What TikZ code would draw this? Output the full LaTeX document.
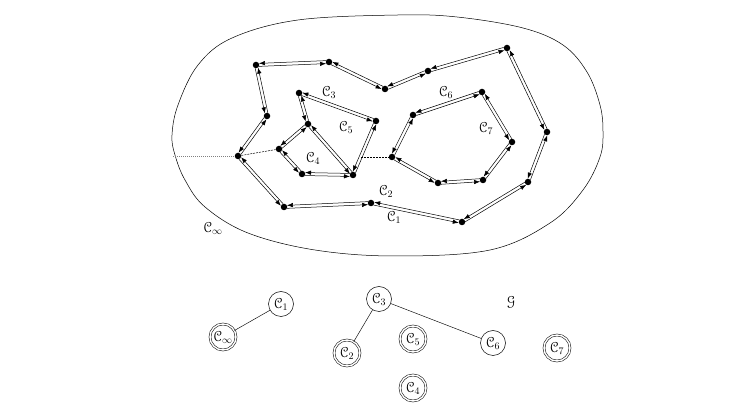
\documentclass[tikz,border=0pt]{standalone}
\usepackage{amsmath}
\usepackage[mathcal]{eucal}
\usetikzlibrary{arrows.meta,calc}
\newcommand\hoff{1.5pt}
\newcommand\hedge[2]{%
  \draw[half] ($(#1.center)!\hoff!-90:(#2.center)$) -- ($(#2.center)!\hoff!90:(#1.center)$);
  \draw[half] ($(#2.center)!\hoff!-90:(#1.center)$) -- ($(#1.center)!\hoff!90:(#2.center)$);
}
\tikzset{
  vtx/.style={circle,fill=black,inner sep=0pt,minimum size=6.5pt},
  half/.style={draw=black,line width=0.5pt,-{Latex[length=6pt,width=4.4pt]},shorten >=3pt,shorten <=3pt},
  lbl/.style={inner sep=0pt,font=\fontsize{14.5}{16}\selectfont},
  gnode/.style={circle,draw=black,line width=0.5pt,minimum size=25pt,inner sep=0pt,font=\fontsize{14.5}{16}\selectfont},
  gdouble/.style={gnode,double,double distance=1.5pt,minimum size=26pt},
  gedge/.style={draw=black,line width=0.45pt}
}
\begin{document}
\begin{tikzpicture}[x=1pt,y=-1pt]
\useasboundingbox (0,0) rectangle (745,411);
% outer curve
\draw[line width=0.5pt] plot[smooth cycle,tension=0.6] coordinates {
  (172,135) (175,155) (185,180) (205,207) (248,233) (315,250) (395,256)
  (490,250) (550,223) (583,190) (600,157) (603,132) (600,105) (587,72)
  (563,45) (523,28) (457,17) (398,15) (298,20) (232,38) (198,65) (178,105)};
% outer cycle vertices
\node[vtx] (a1) at (256,65) {};
\node[vtx] (a2) at (329,62) {};
\node[vtx] (a3) at (385,89) {};
\node[vtx] (a4) at (428,71) {};
\node[vtx] (a5) at (507,48) {};
\node[vtx] (a6) at (547,132) {};
\node[vtx] (a7) at (528,182) {};
\node[vtx] (a8) at (462,222) {};
\node[vtx] (a9) at (371,203) {};
\node[vtx] (a10) at (284,207) {};
\node[vtx] (a11) at (238,156) {};
\node[vtx] (a12) at (267,116) {};
% left inner component
\node[vtx] (b1) at (299,93) {};
\node[vtx] (b2) at (376,121) {};
\node[vtx] (b3) at (353,175) {};
\node[vtx] (b4) at (308,124) {};
\node[vtx] (b5) at (279,149) {};
\node[vtx] (b6) at (302,174) {};
% right inner component
\node[vtx] (d1) at (413,115) {};
\node[vtx] (d2) at (482,92) {};
\node[vtx] (d3) at (512,142) {};
\node[vtx] (d4) at (483,180) {};
\node[vtx] (d5) at (438,183) {};
\node[vtx] (d6) at (392,157) {};
% half-edges
\hedge{a1}{a2}\hedge{a2}{a3}\hedge{a3}{a4}\hedge{a4}{a5}\hedge{a5}{a6}
\hedge{a6}{a7}\hedge{a7}{a8}\hedge{a8}{a9}\hedge{a9}{a10}\hedge{a10}{a11}
\hedge{a11}{a12}\hedge{a12}{a1}
\hedge{b1}{b2}\hedge{b2}{b3}\hedge{b3}{b4}\hedge{b4}{b1}
\hedge{b4}{b5}\hedge{b5}{b6}\hedge{b6}{b3}
\hedge{d1}{d2}\hedge{d2}{d3}\hedge{d3}{d4}\hedge{d4}{d5}\hedge{d5}{d6}\hedge{d6}{d1}
% dashed connections
\coordinate (ovl) at (173,156);
\coordinate (bm) at (361,157);
\draw[gray,line width=0.45pt,dash pattern=on 1pt off 1pt] (ovl) -- (a11);
\draw[line width=0.5pt,dash pattern=on 2pt off 1pt] (a11) -- (b5);
\draw[line width=0.5pt,dash pattern=on 2pt off 1pt] (bm) -- (d6);
% labels
\node[lbl] (l3) at (329,92) {$\mathcal{C}_3$};
\node[lbl] (l5) at (346,127) {$\mathcal{C}_5$};
\node[lbl] (l4) at (313,158) {$\mathcal{C}_4$};
\node[lbl] (l6) at (446,92) {$\mathcal{C}_6$};
\node[lbl] (l7) at (486,128) {$\mathcal{C}_7$};
\node[lbl] (l2) at (386,191) {$\mathcal{C}_2$};
\node[lbl] (l1) at (394,217) {$\mathcal{C}_1$};
\node[lbl] (linf) at (213,228) {$\mathcal{C}_\infty$};
% graph
\node[gnode] (g1) at (281,304) {$\mathcal{C}_1$};
\node[gdouble] (ginf) at (223,337) {$\mathcal{C}_\infty$};
\node[gnode] (g3) at (379,299) {$\mathcal{C}_3$};
\node[gdouble] (g2) at (347,353) {$\mathcal{C}_2$};
\node[gdouble] (g5) at (413,339) {$\mathcal{C}_5$};
\node[gnode] (g6) at (493,343) {$\mathcal{C}_6$};
\node[gdouble] (g7) at (557,348) {$\mathcal{C}_7$};
\node[gdouble] (g4) at (413,388) {$\mathcal{C}_4$};
\node[lbl] (gg) at (511,302) {$\mathcal{G}$};
\draw[gedge] (ginf) -- (g1);
\draw[gedge] (g3) -- (g2);
\draw[gedge] (g3) -- (g6);
\end{tikzpicture}
\end{document}
